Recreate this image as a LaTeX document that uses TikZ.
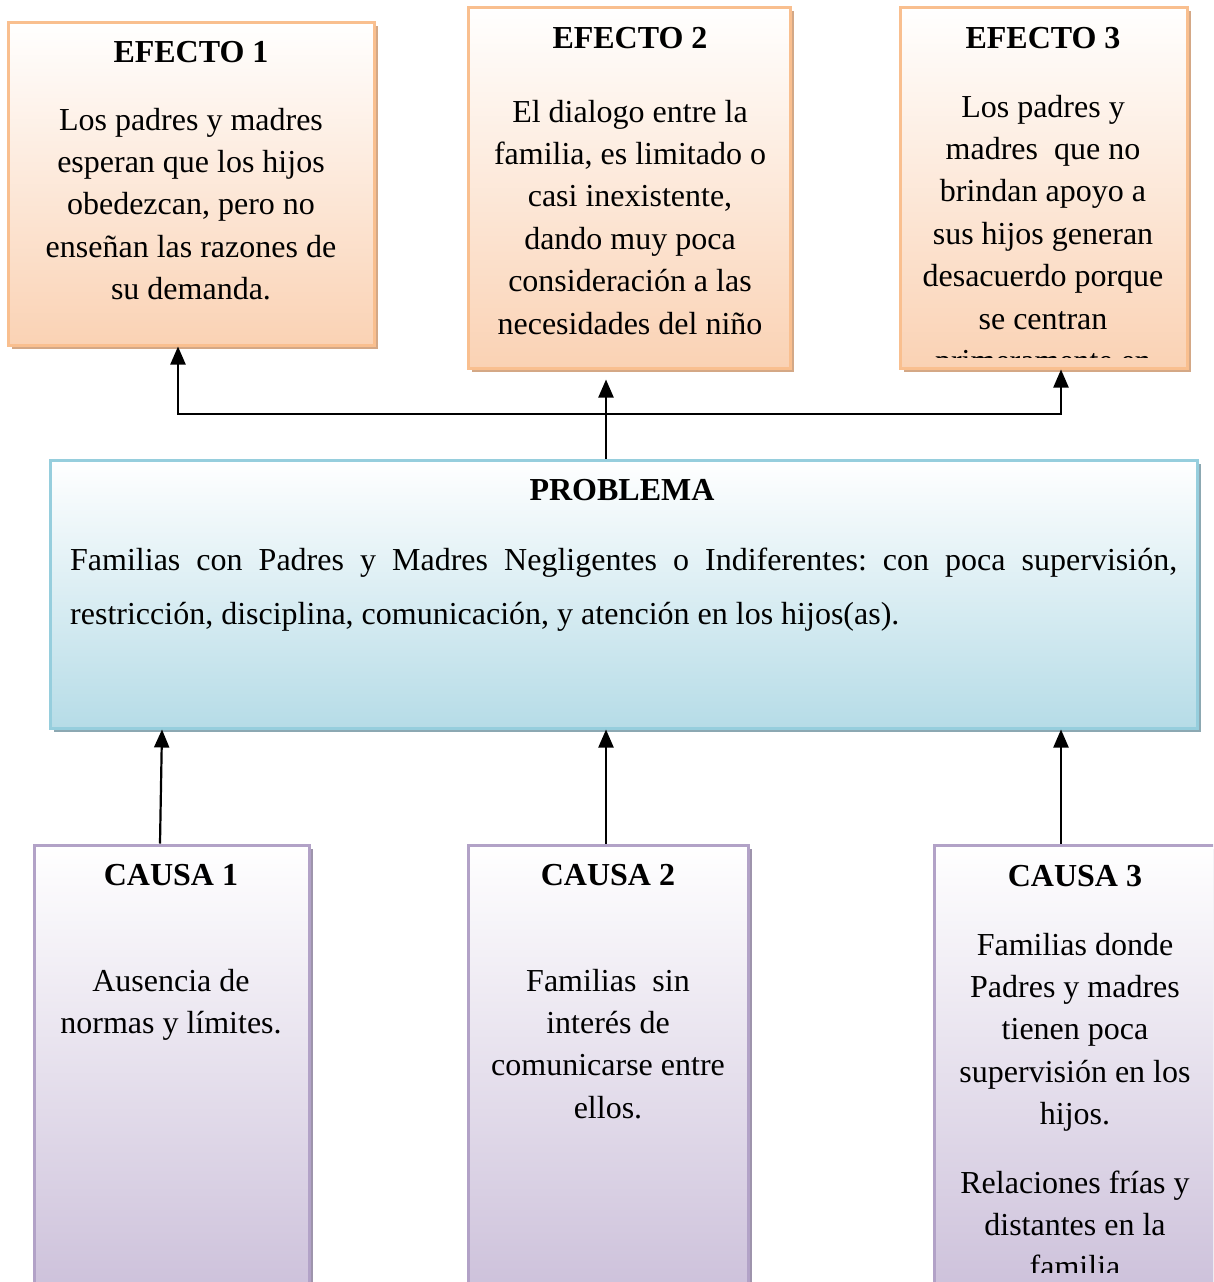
\documentclass[tikz,border=0pt]{standalone}
\usepackage{fontspec}
\setmainfont{Liberation Serif}
\usetikzlibrary{arrows.meta,shadows}
\definecolor{efborder}{RGB}{249,191,143}
\definecolor{effill}{RGB}{250,210,180}
\definecolor{efshadow}{RGB}{212,168,134}
\definecolor{prborder}{RGB}{150,206,221}
\definecolor{prfill}{RGB}{182,220,231}
\definecolor{prshadow}{RGB}{140,168,178}
\definecolor{caborder}{RGB}{178,162,199}
\definecolor{cafill}{RGB}{204,192,218}
\definecolor{cashadow}{RGB}{158,148,172}
\frenchspacing
\begin{document}
\begin{tikzpicture}[x=1pt,y=-1pt,
  boxbase/.style={line width=3pt, inner sep=0pt, top color=white},
  efbox/.style={boxbase, draw=efborder, bottom color=effill,
    drop shadow={shadow xshift=4pt, shadow yshift=-4pt, fill=efshadow, opacity=1}},
  prbox/.style={boxbase, draw=prborder, bottom color=prfill,
    drop shadow={shadow xshift=4pt, shadow yshift=-4pt, fill=prshadow, opacity=1}},
  cabox/.style={boxbase, draw=caborder, bottom color=cafill,
    drop shadow={shadow xshift=4pt, shadow yshift=-4pt, fill=cashadow, opacity=1}},
  txt/.style={inner sep=0pt, align=center, font=\fontsize{32}{42.4}\selectfont},
  ttl/.style={inner sep=0pt, anchor=base, font=\fontsize{32}{40}\selectfont\bfseries},
  arr/.style={line width=2.2pt, -{Triangle[width=15pt,length=18pt]}},
]
\clip (0,0) rectangle (1213,1282);
\fill[white] (0,0) rectangle (1213,1282);

% effect boxes
\node[efbox, minimum width=366pt, minimum height=323pt] (e1) at (191,183.5) {};
\node[efbox, minimum width=322pt, minimum height=361pt] (e2) at (629,187.5) {};
\node[efbox, minimum width=287pt, minimum height=361pt] (e3) at (1043.5,187.5) {};

% anchor=base is the baseline of the LAST line of a multi-line node
\node[ttl] (e1t) at (191,62) {EFECTO 1};
\node[txt, anchor=base] (e1x) at (191,299.6) {Los padres y madres\\esperan que los hijos\\obedezcan, pero no\\enseñan las razones de\\su demanda.};

\node[ttl] (e2t) at (630,48) {EFECTO 2};
\node[txt, anchor=base] (e2x) at (630,334) {El dialogo entre la\\familia, es limitado o\\casi inexistente,\\dando muy poca\\consideración a las\\necesidades del niño};

\node[ttl] (e3t) at (1043,48) {EFECTO 3};
\begin{scope}
\clip (900,7) rectangle (1187,357);
\node[txt, anchor=base] (e3x) at (1043,371.4) {Los padres y\\madres~ que no\\brindan apoyo a\\sus hijos generan\\desacuerdo porque\\se centran\\primeramente en};
\end{scope}

% problem box
\node[prbox, minimum width=1147pt, minimum height=268pt] (prob) at (623.5,594) {};
\node[ttl] (probt) at (622,500) {PROBLEMA};
\node[inner sep=0pt, anchor=base west, text width=1107pt, align=justify,
  font=\fontsize{32}{54}\selectfont] (probx) at (70,570)
  {Familias con Padres y Madres Negligentes o Indiferentes: con poca supervisión,\linebreak restricción, disciplina, comunicación, y atención en los hijos(as).};

% cause boxes
\node[cabox, minimum width=275pt, minimum height=455pt] (c1) at (171.5,1072.5) {};
\node[cabox, minimum width=280pt, minimum height=455pt] (c2) at (608,1072.5) {};
\node[cabox, minimum width=306pt, minimum height=455pt] (c3) at (1087,1072.5) {};

\node[ttl] (c1t) at (171,885) {CAUSA 1};
\node[txt, anchor=base] (c1x) at (171,1033.4) {Ausencia de\\normas y límites.};

\node[ttl] (c2t) at (608,885) {CAUSA 2};
\node[txt, anchor=base] (c2x) at (608,1118.2) {Familias~ sin\\interés de\\comunicarse entre\\ellos.};

\node[ttl] (c3t) at (1075,886) {CAUSA 3};
\node[txt, anchor=base] (c3x) at (1075,1124.6) {Familias donde\\Padres y madres\\tienen poca\\supervisión en los\\hijos.};
\begin{scope}
\clip (934,1140) rectangle (1213,1272);
\node[txt, anchor=base] (c3y) at (1075,1277.8) {Relaciones frías y\\distantes en la\\familia};
\end{scope}

% connectors
\coordinate (j) at (606,414);
\draw[arr] (j) -| ([xshift=-13pt]e1.south);
\draw[arr] (j) -| ([xshift=17.5pt]e3.south);
\draw[arr, shorten >=10pt] (prob.north -| j) -- (e2.south -| j);

\draw[arr] ([xshift=-11.5pt]c1.north) -- ([xshift=-9.5pt]c1.north |- prob.south);
\draw[arr] ([xshift=-2pt]c2.north) -- ([xshift=-2pt]c2.north |- prob.south);
\draw[arr] ([xshift=-26pt]c3.north) -- ([xshift=-26pt]c3.north |- prob.south);
\end{tikzpicture}
\end{document}
